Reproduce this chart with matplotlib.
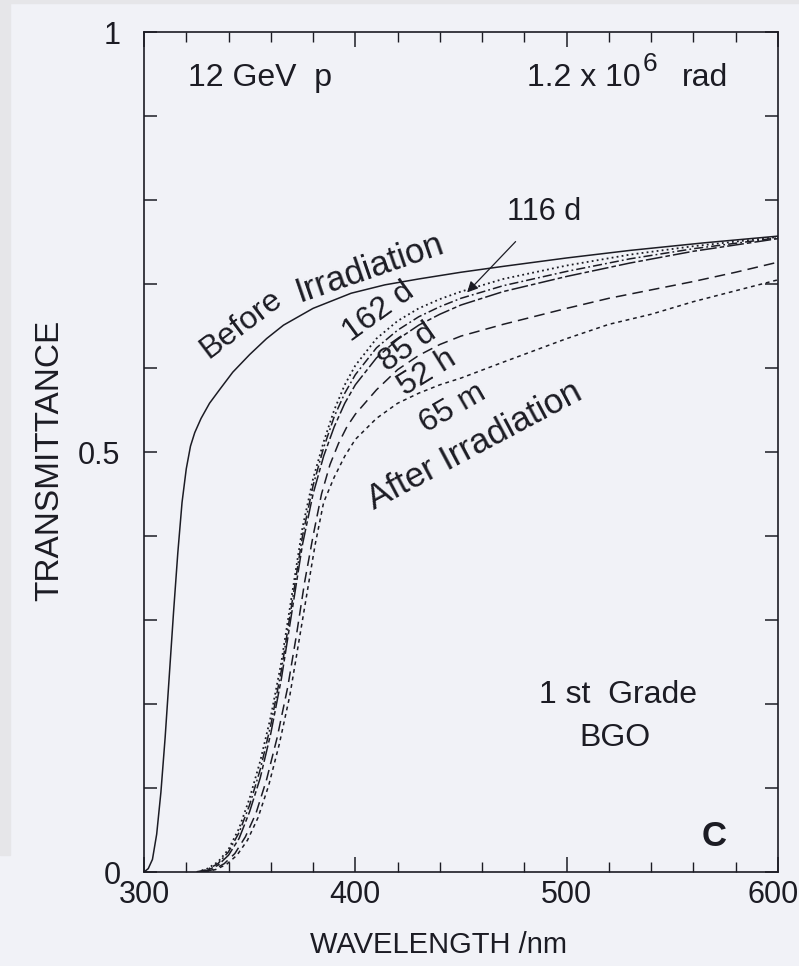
import numpy as np
from matplotlib import pyplot as plt
from matplotlib.patches import Rectangle
from matplotlib.ticker import MultipleLocator
from matplotlib.transforms import ScaledTranslation

# ___________________________________________________________________________________________
# --- SPECTRA (wavelength in nm, transmittance) ---
before_wl = [300, 302, 304, 306, 308, 310, 312, 314, 316, 318, 320, 322, 324, 327, 331, 336,
             342, 350, 358, 366, 380, 398, 414, 430, 440, 450, 470, 500, 530, 565, 600]
before_tr = [0.0, 0.004, 0.015, 0.045, 0.095, 0.16, 0.235, 0.31, 0.38, 0.44, 0.48, 0.507,
             0.523, 0.54, 0.558, 0.575, 0.595, 0.616, 0.635, 0.651, 0.671, 0.689, 0.699,
             0.706, 0.710, 0.714, 0.721, 0.731, 0.740, 0.749, 0.757]

d162_wl = [325, 330, 335, 340, 345, 350, 355, 360, 365, 370, 375, 380, 385, 390, 395, 400,
           410, 420, 430, 440, 450, 470, 500, 530, 560, 600]
d162_tr = [0.0, 0.004, 0.012, 0.027, 0.052, 0.088, 0.132, 0.185, 0.25, 0.33, 0.41, 0.468,
           0.512, 0.55, 0.58, 0.603, 0.635, 0.656, 0.671, 0.682, 0.691, 0.706, 0.722, 0.735,
           0.745, 0.756]

d116_wl = [325, 330, 335, 340, 345, 350, 355, 360, 365, 370, 375, 380, 385, 390, 395, 400,
           410, 420, 430, 440, 450, 470, 500, 530, 560, 600]
d116_tr = [0.0, 0.003, 0.01, 0.024, 0.047, 0.08, 0.122, 0.175, 0.24, 0.32, 0.40, 0.46,
           0.505, 0.542, 0.57, 0.592, 0.624, 0.645, 0.661, 0.673, 0.683, 0.698, 0.715, 0.730,
           0.742, 0.755]

d85_wl = [325, 330, 335, 340, 345, 350, 355, 360, 365, 370, 375, 380, 385, 390, 395, 400,
          410, 420, 430, 440, 450, 470, 500, 530, 560, 600]
d85_tr = [0.0, 0.002, 0.008, 0.02, 0.04, 0.072, 0.112, 0.165, 0.23, 0.31, 0.39, 0.45,
          0.495, 0.53, 0.558, 0.58, 0.612, 0.634, 0.651, 0.664, 0.675, 0.691, 0.709, 0.725,
          0.739, 0.754]

h52_wl = [328, 333, 338, 343, 348, 353, 358, 363, 368, 372, 376, 380, 384, 388, 392, 396,
          400, 410, 420, 430, 440, 450, 470, 500, 520, 540, 560, 580, 600]
h52_tr = [0.0, 0.003, 0.01, 0.022, 0.042, 0.07, 0.11, 0.16, 0.22, 0.28, 0.345, 0.40, 0.45,
          0.485, 0.51, 0.53, 0.545, 0.574, 0.598, 0.615, 0.628, 0.638, 0.652, 0.671, 0.683,
          0.693, 0.703, 0.714, 0.726]

m65_wl = [329, 334, 339, 344, 349, 354, 359, 364, 369, 373, 377, 381, 385, 390, 395, 400,
          410, 420, 430, 440, 450, 470, 500, 520, 540, 560, 580, 600]
m65_tr = [0.0, 0.003, 0.009, 0.02, 0.038, 0.065, 0.103, 0.152, 0.21, 0.27, 0.33, 0.39,
          0.44, 0.47, 0.495, 0.515, 0.54, 0.558, 0.57, 0.58, 0.588, 0.607, 0.635, 0.652,
          0.664, 0.679, 0.692, 0.705]

x_ticks = [300, 400, 500, 600]
y_ticks = [0, 0.5, 1]
y_tick_labels = ["0", "0.5", "1"]

# ___________________________________________________________________________________________
# --- STYLE ---
INK = "#1c1c24"
PAPER = "#f1f2f7"
plt.rcParams["font.family"] = ["Liberation Sans", "DejaVu Sans"]

fig = plt.figure(figsize=(7.99, 9.66), dpi=100, facecolor=PAPER)
# scanner edge along the left and top border
fig.patches.append(Rectangle((0, 1 - 855 / 966), 10 / 799, 855 / 966,
                             transform=fig.transFigure, color="#e6e6e9", zorder=0))
fig.patches.append(Rectangle((0, 1 - 3 / 966), 1, 3 / 966,
                             transform=fig.transFigure, color="#e6e6e9", zorder=0))

ax = fig.add_axes([144 / 799, 94 / 966, 634 / 799, 840 / 966])
ax.set_facecolor(PAPER)

# ___________________________________________________________________________________________
# --- CURVES ---
lw = 1.1
ax.plot(before_wl, before_tr, color=INK, lw=lw, ls="-")
ax.plot(d162_wl, d162_tr, color=INK, lw=1.3, ls=(0, (1, 1.8)))
ax.plot(d116_wl, d116_tr, color=INK, lw=lw, ls=(0, (6, 2, 1.2, 2)))
ax.plot(d85_wl, d85_tr, color=INK, lw=lw, ls=(0, (11, 2, 3, 2)))
ax.plot(h52_wl, h52_tr, color=INK, lw=lw, ls=(0, (7, 4)))
ax.plot(m65_wl, m65_tr, color=INK, lw=lw, ls=(0, (2.5, 2.5)))

# ___________________________________________________________________________________________
# --- AXES ---
ax.set_xlim(300, 600)
ax.set_ylim(0, 1)
ax.set_xticks(x_ticks)
ax.xaxis.set_minor_locator(MultipleLocator(20))
ax.set_yticks(y_ticks)
ax.set_yticklabels(y_tick_labels)
ax.yaxis.set_minor_locator(MultipleLocator(0.1))
ax.tick_params(which="both", direction="in", top=True, right=True, color=INK,
               labelcolor=INK, labelsize=22)
ax.tick_params(axis="x", which="major", length=11, width=1.1, pad=6)
ax.tick_params(axis="x", which="minor", length=7, width=1.0)
ax.tick_params(axis="y", which="both", length=9.5, width=1.1, pad=17)
for spine in ax.spines.values():
    spine.set_color(INK)
    spine.set_linewidth(1.2)

# keep the last wavelength label inside the page
fig.canvas.draw()
last_label = ax.get_xticklabels()[-1]
last_label.set_transform(last_label.get_transform()
                         + ScaledTranslation(-5 / 100, 0, fig.dpi_scale_trans))

fig.text(438 / 799, 1 - 945 / 966, "WAVELENGTH /nm", ha="center", va="center",
         fontsize=21, color=INK)
fig.text(50 / 799, 1 - 460 / 966, "TRANSMITTANCE", ha="center", va="center",
         rotation=90, fontsize=24, color=INK)

# ___________________________________________________________________________________________
# --- ANNOTATIONS ---
txt = dict(color=INK, rotation_mode="anchor", ha="center", va="center")
ax.text(320.8, 0.945, "12 GeV  p", ha="left", va="center", color=INK, fontsize=23)
ax.text(481.3, 0.945, "1.2 x 10", ha="left", va="center", color=INK, fontsize=23)
ax.text(535.8, 0.962, "6", ha="left", va="center", color=INK, fontsize=19)
ax.text(554.5, 0.945, "rad", ha="left", va="center", color=INK, fontsize=23)

ax.text(346.0, 0.652, "Before", rotation=37, fontsize=23, **txt)
ax.text(407.0, 0.719, "Irradiation", rotation=19, fontsize=25, **txt)
ax.text(411.0, 0.667, "162 d", rotation=36, fontsize=23, **txt)
ax.text(425.0, 0.624, "85 d", rotation=35, fontsize=23, **txt)
ax.text(434.0, 0.594, "52 h", rotation=32, fontsize=23, **txt)
ax.text(446.2, 0.552, "65 m", rotation=30, fontsize=23, **txt)
ax.text(456.6, 0.508, "After Irradiation", rotation=28, fontsize=25, **txt)

ax.annotate("116 d", xy=(452.9, 0.690), xytext=(489.3, 0.786), ha="center", va="center",
            color=INK, fontsize=22,
            arrowprops=dict(arrowstyle="-|>", color=INK, lw=0.9, mutation_scale=16,
                            shrinkA=12, shrinkB=0))

ax.text(524.3, 0.211, "1 st  Grade", ha="center", va="center", color=INK, fontsize=23)
ax.text(522.9, 0.160, "BGO", ha="center", va="center", color=INK, fontsize=23)
ax.text(569.8, 0.042, "C", ha="center", va="center", color=INK, fontsize=25,
        fontweight="bold")

fig.savefig("out.png", dpi=100, facecolor=PAPER)
